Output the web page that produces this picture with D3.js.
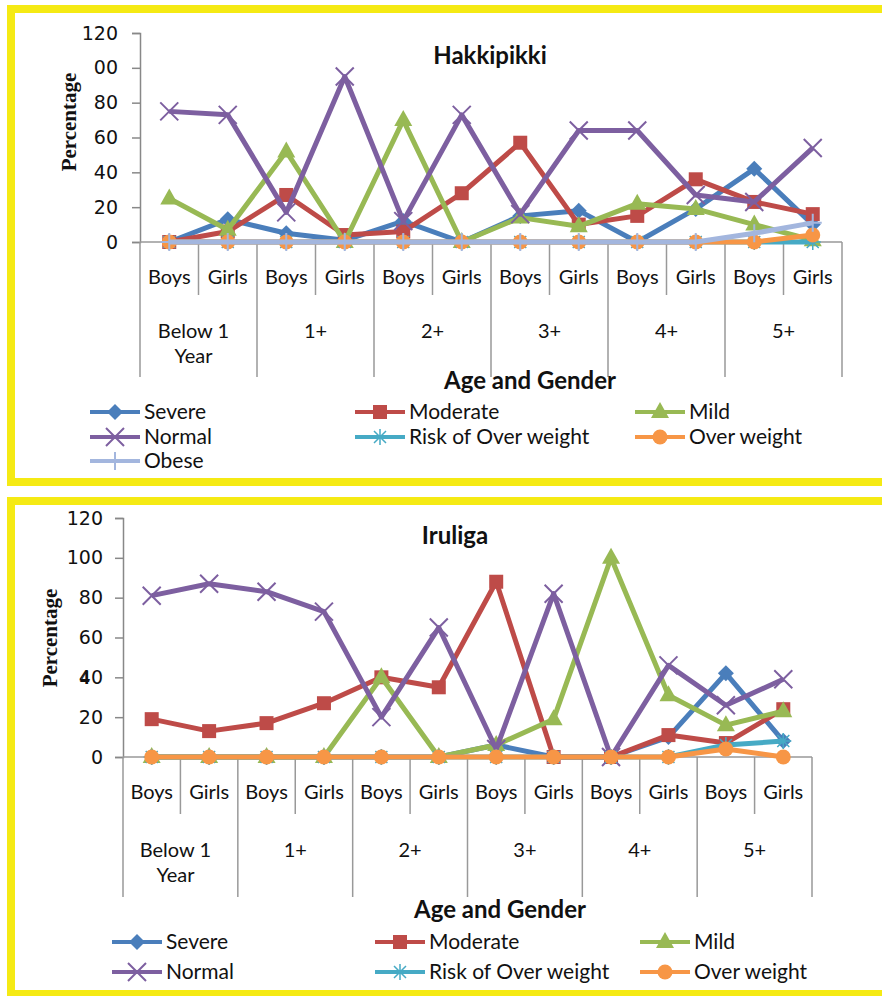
<!DOCTYPE html>
<html>
<head>
<meta charset="utf-8">
<script src="https://cdn.jsdelivr.net/npm/d3@7"></script>
<style>
  body { margin: 0; background: #fff; }
  svg { display: block; }
</style>
</head>
<body>
<div id="chart"></div>
<script>
// categories
const genders = ['Boys', 'Girls', 'Boys', 'Girls', 'Boys', 'Girls', 'Boys', 'Girls', 'Boys', 'Girls', 'Boys', 'Girls'];
const ageGroups = [['Below 1', 'Year'], ['1+'], ['2+'], ['3+'], ['4+'], ['5+']];
const yTicks = [0, 20, 40, 60, 80, 100, 120];
const hakkiTickLabels = ['0', '20', '40', '60', '80', '00', '120'];
const iruTickLabels = ['0', '20', '40', '60', '80', '100', '120'];

// Hakkipikki series
const hakkiSevere = [0, 13, 5, 1, 12, 0, 15, 18, 0, 19, 42, 10];
const hakkiModerate = [0, 6, 27, 4, 6, 28, 57, 10, 15, 36, 23, 16];
const hakkiMild = [25, 7, 52, 0, 70, 0, 14, 9, 22, 19, 10, 1];
const hakkiNormal = [75, 73, 17, 95, 12, 73, 16, 64, 64, 27, 23, 54];
const hakkiRisk = [0, 0, 0, 0, 0, 0, 0, 0, 0, 0, 0, 0];
const hakkiOver = [0, 0, 0, 0, 0, 0, 0, 0, 0, 0, 0, 4];
const hakkiObese = [0, 0, 0, 0, 0, 0, 0, 0, 0, 0, 5, 11];

// Iruliga series
const iruSevere = [0, 0, 0, 0, 0, 0, 6, 0, 0, 10, 42, 8];
const iruModerate = [19, 13, 17, 27, 40, 35, 88, 0, 0, 11, 7, 24];
const iruMild = [0, 0, 0, 0, 40, 0, 6, 19, 100, 31, 16, 23];
const iruNormal = [81, 87, 83, 73, 20, 65, 4, 82, 0, 46, 26, 39];
const iruRisk = [0, 0, 0, 0, 0, 0, 0, 0, 0, 0, 6, 8];
const iruOver = [0, 0, 0, 0, 0, 0, 0, 0, 0, 0, 4, 0];

const seriesStyle = {
  'Severe': {color: '#4a7ebb', symbol: 'diamond'},
  'Moderate': {color: '#be4b48', symbol: 'square'},
  'Mild': {color: '#98b954', symbol: 'triangle'},
  'Normal': {color: '#7d5fa0', symbol: 'x'},
  'Risk of Over weight': {color: '#46aac5', symbol: 'star'},
  'Over weight': {color: '#f79646', symbol: 'circle'},
  'Obese': {color: '#a3b6de', symbol: 'plus'},
};

const W = 882;
const H = 996;
const svg = d3.select('#chart').append('svg')
    .attr('width', W)
    .attr('height', H);

const labelFont = 'Lato, "Open Sans", sans-serif';
const tickFont = '"DejaVu Sans", Verdana, sans-serif';

// draw a marker at the origin
const drawMarker = (g, symbol, color) => {
  if (symbol === 'diamond') {
    g.append('path').attr('d', 'M0,-8L8,0L0,8L-8,0Z').attr('fill', color);
  } else if (symbol === 'square') {
    g.append('rect').attr('x', -7).attr('y', -7).attr('width', 14).attr('height', 14).attr('fill', color);
  } else if (symbol === 'triangle') {
    g.append('path').attr('d', 'M0,-10L9,6L-9,6Z').attr('fill', color);
  } else if (symbol === 'circle') {
    g.append('circle').attr('r', 7.5).attr('fill', color);
  } else if (symbol === 'x') {
    g.append('path').attr('d', 'M-9,-9L9,9M-9,9L9,-9')
        .attr('stroke', color).attr('stroke-width', 2).attr('fill', 'none');
  } else if (symbol === 'plus') {
    g.append('path').attr('d', 'M-9,0L9,0M0,-9L0,9')
        .attr('stroke', color).attr('stroke-width', 2).attr('fill', 'none');
  } else if (symbol === 'star') {
    g.append('path').attr('d', 'M-6,-6L6,6M-6,6L6,-6M-8,0L8,0M0,-8L0,8')
        .attr('stroke', color).attr('stroke-width', 1.5).attr('fill', 'none');
  }
};

const drawPanel = (p) => {
  // yellow frame
  svg.append('rect')
      .attr('x', p.frame[0]).attr('y', p.frame[1])
      .attr('width', p.frame[2]).attr('height', p.frame[3])
      .attr('fill', '#fff')
      .attr('stroke', '#f5ea14')
      .attr('stroke-width', 8);

  const g = svg.append('g');
  const idx = d3.range(genders.length);
  const x = d3.scaleBand().domain(idx).range([p.left, p.right]);
  const y = d3.scaleLinear().domain([0, 120]).range([p.bottom, p.top]);

  // y axis
  const yAxis = g.append('g')
      .attr('transform', 'translate(' + p.left + ',0)')
      .call(d3.axisLeft(y).tickValues(yTicks).tickSize(8)
          .tickFormat((d, i) => p.tickLabels[i]));
  yAxis.select('.domain').attr('stroke', '#888').attr('stroke-width', 1.5);
  yAxis.selectAll('.tick line').attr('stroke', '#888').attr('stroke-width', 1.5);
  yAxis.selectAll('.tick text')
      .attr('font-family', tickFont).attr('font-size', 19)
      .attr('fill', '#111').attr('x', -p.tickGap);

  // category separators
  d3.range(genders.length + 1).forEach((i) => {
    const xx = i < genders.length ? x(i) : p.right;
    g.append('line')
        .attr('x1', xx).attr('x2', xx)
        .attr('y1', p.bottom)
        .attr('y2', i % 2 === 0 ? p.bottom + p.longTick : p.bottom + p.shortTick)
        .attr('stroke', '#999').attr('stroke-width', 1.5);
  });
  g.append('line')
      .attr('x1', p.left).attr('x2', p.right)
      .attr('y1', p.bottom).attr('y2', p.bottom)
      .attr('stroke', '#999').attr('stroke-width', 1.5);

  // gender labels
  g.selectAll('.gender').data(genders).join('text')
      .attr('x', (d, i) => x(i) + x.bandwidth() / 2)
      .attr('y', p.bottom + p.genderY)
      .attr('text-anchor', 'middle')
      .attr('font-family', labelFont).attr('font-size', 20)
      .attr('fill', '#111')
      .text((d) => d);

  // age group labels
  ageGroups.forEach((lines, k) => {
    const cx = x(k * 2) + x.bandwidth();
    lines.forEach((t, j) => {
      g.append('text')
          .attr('x', cx - (k === 0 ? 5 : 0)).attr('y', p.bottom + p.groupY + j * 25)
          .attr('text-anchor', 'middle')
          .attr('font-family', labelFont).attr('font-size', 20)
          .attr('fill', '#111')
          .text(t);
    });
  });

  // x title
  g.append('text')
      .attr('x', p.xTitle[0]).attr('y', p.xTitle[1])
      .attr('text-anchor', 'middle')
      .attr('font-family', labelFont).attr('font-size', 24).attr('font-weight', 'bold')
      .attr('fill', '#111')
      .text('Age and Gender');

  // y title
  g.append('text')
      .attr('transform', 'translate(' + p.yTitle[0] + ',' + p.yTitle[1] + ') rotate(-90)')
      .attr('text-anchor', 'middle')
      .attr('font-family', '"Liberation Serif", "Times New Roman", serif')
      .attr('font-size', 21).attr('font-weight', 'bold')
      .attr('fill', '#111')
      .text('Percentage');

  // chart title
  g.append('text')
      .attr('x', p.title[1]).attr('y', p.title[2])
      .attr('text-anchor', 'middle')
      .attr('font-family', labelFont).attr('font-size', 24).attr('font-weight', 'bold')
      .attr('fill', '#111')
      .text(p.title[0]);

  // series lines and markers
  const line = d3.line()
      .x((d, i) => x(i) + x.bandwidth() / 2)
      .y((d) => y(d));
  p.series.forEach(([name, values]) => {
    const st = seriesStyle[name];
    g.append('path')
        .datum(values)
        .attr('fill', 'none')
        .attr('stroke', st.color)
        .attr('stroke-width', 5)
        .attr('stroke-linejoin', 'round')
        .attr('d', line);
    values.forEach((v, i) => {
      const m = g.append('g')
          .attr('transform', 'translate(' + (x(i) + x.bandwidth() / 2) + ',' + y(v) + ')');
      drawMarker(m, st.symbol, st.color);
    });
  });

  // legend
  p.series.forEach(([name], k) => {
    const st = seriesStyle[name];
    const col = k % 3;
    const row = Math.floor(k / 3);
    const lx = p.legendCols[col];
    const ly = p.legendRows[row];
    const lg = g.append('g');
    lg.append('line')
        .attr('x1', lx).attr('x2', lx + 50)
        .attr('y1', ly).attr('y2', ly)
        .attr('stroke', st.color).attr('stroke-width', 4);
    const m = lg.append('g').attr('transform', 'translate(' + (lx + 25) + ',' + ly + ')');
    drawMarker(m, st.symbol, st.color);
    lg.append('text')
        .attr('x', lx + 54).attr('y', ly + 7)
        .attr('font-family', labelFont).attr('font-size', 21)
        .attr('fill', '#111')
        .text(name);
  });
};

drawPanel({
  frame: [11, 9, 875, 473],
  left: 140, right: 842, top: 33, bottom: 242,
  tickLabels: hakkiTickLabels, tickGap: 22,
  shortTick: 53, longTick: 135, genderY: 42, groupY: 96,
  xTitle: [530, 389], yTitle: [76, 122],
  title: ['Hakkipikki', 490, 64],
  legendCols: [90, 355, 635], legendRows: [412, 437, 461],
  series: [
    ['Severe', hakkiSevere],
    ['Moderate', hakkiModerate],
    ['Mild', hakkiMild],
    ['Normal', hakkiNormal],
    ['Risk of Over weight', hakkiRisk],
    ['Over weight', hakkiOver],
    ['Obese', hakkiObese],
  ],
});

drawPanel({
  frame: [11, 501, 875, 493],
  left: 123, right: 812, top: 518, bottom: 757,
  tickLabels: iruTickLabels, tickGap: 20,
  shortTick: 57, longTick: 140, genderY: 42, groupY: 100,
  xTitle: [500, 918], yTitle: [57, 638],
  title: ['Iruliga', 455, 544],
  legendCols: [112, 375, 640], legendRows: [942, 972],
  series: [
    ['Severe', iruSevere],
    ['Moderate', iruModerate],
    ['Mild', iruMild],
    ['Normal', iruNormal],
    ['Risk of Over weight', iruRisk],
    ['Over weight', iruOver],
  ],
});

// stray glyph left over on the second y axis
svg.append('text')
    .attr('x', 80).attr('y', 684)
    .attr('font-family', '"Liberation Serif", serif')
    .attr('font-size', 19).attr('font-weight', 'bold')
    .attr('fill', '#111')
    .text('4');
</script>
</body>
</html>
